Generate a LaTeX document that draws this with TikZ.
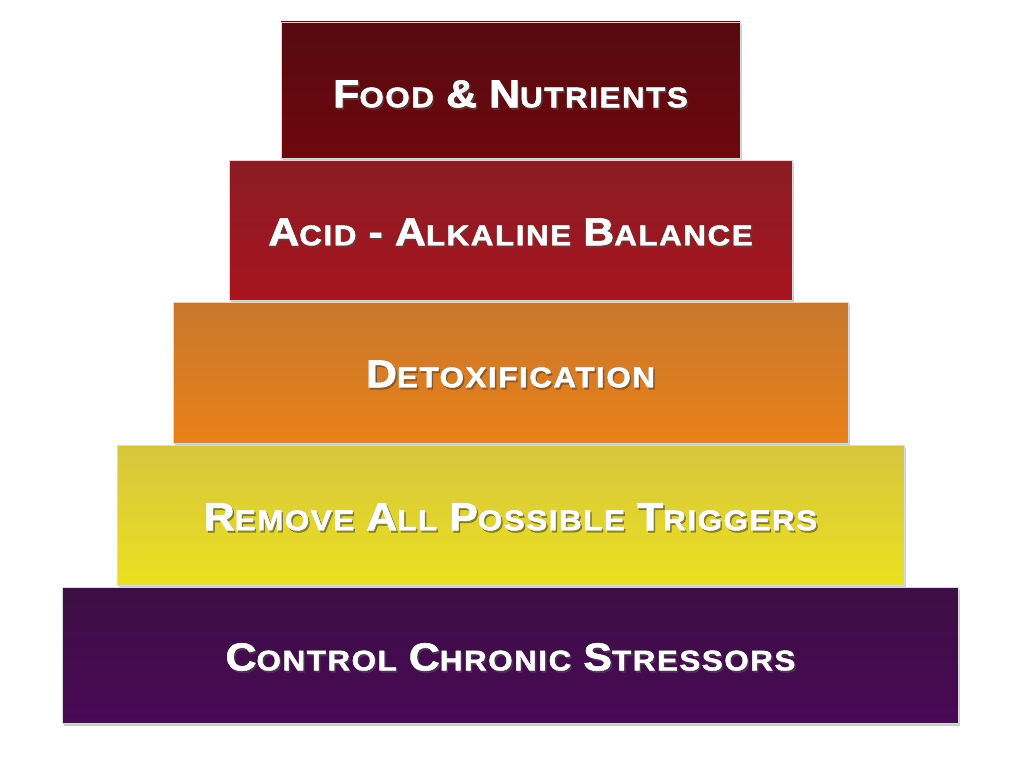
\documentclass[tikz,border=0pt]{standalone}
\usepackage{fontspec}
\setmainfont{Liberation Sans}[LetterSpace=5,BoldFeatures={FakeBold=1.5}]
\usetikzlibrary{shadows}
\newcommand{\Sc}[2]{{\fontsize{39}{39}\selectfont #1}{\fontsize{28.5}{28.5}\selectfont #2}}
\newcommand{\Sp}{\hspace{11pt}}
\tikzset{
  tier/.style={draw=white!70!gray, line width=0.8pt, drop shadow={shadow xshift=2pt, shadow yshift=-3pt, opacity=0.4}},
  lbl/.style={text=white, font=\bfseries, xscale=1.1},
  lblsh/.style={text=black!70, font=\bfseries, opacity=0.6, xscale=1.1}
}
\newcommand{\tierlabel}[3]{%
  \node[lblsh] at ([xshift=1.5pt,yshift=-2pt]#1) {#3};
  \node[lbl] (#2) at (#1) {#3};}
\begin{document}
\begin{tikzpicture}[x=1pt,y=-1pt]
\useasboundingbox[fill=white] (0,0) rectangle (1024,768);
\shade[tier, top color={rgb,255:red,86;green,10;blue,16}, bottom color={rgb,255:red,110;green,8;blue,14}] (281,22) rectangle (740,158);
\shade[tier, top color={rgb,255:red,138;green,28;blue,36}, bottom color={rgb,255:red,168;green,20;blue,30}] (229,160) rectangle (792,300);
\shade[tier, top color={rgb,255:red,200;green,120;blue,45}, bottom color={rgb,255:red,234;green,128;blue,24}] (173,302) rectangle (848,443);
\shade[tier, top color={rgb,255:red,214;green,198;blue,62}, bottom color={rgb,255:red,236;green,224;blue,32}] (117,445) rectangle (904,585);
\shade[tier, top color={rgb,255:red,60;green,15;blue,68}, bottom color={rgb,255:red,74;green,8;blue,86}] (62,587) rectangle (958,723);
\tierlabel{510.5,94}{t1}{\Sc{F}{OOD}\Sp\Sc{\&}{}\Sp\Sc{N}{UTRIENTS}}
\tierlabel{510.5,232}{t2}{\Sc{A}{CID}\Sp\Sc{-}{}\Sp\Sc{A}{LKALINE}\Sp\Sc{B}{ALANCE}}
\tierlabel{510.5,374}{t3}{\Sc{D}{ETOXIFICATION}}
\tierlabel{510.5,517}{t4}{\Sc{R}{EMOVE}\Sp\Sc{A}{LL}\Sp\Sc{P}{OSSIBLE}\Sp\Sc{T}{RIGGERS}}
\tierlabel{510.5,657}{t5}{\Sc{C}{ONTROL}\Sp\Sc{C}{HRONIC}\Sp\Sc{S}{TRESSORS}}
\end{tikzpicture}
\end{document}
